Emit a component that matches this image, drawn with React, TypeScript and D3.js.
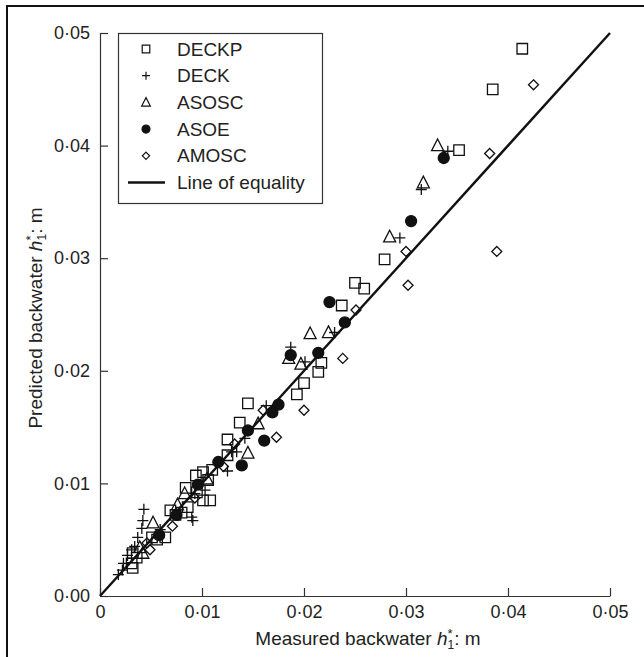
import * as d3 from "d3";
import React, { useEffect, useRef } from "react";

const deckp = [
  [0.0414, 0.0486], [0.0385, 0.045], [0.0352, 0.0396], [0.0279, 0.0299],
  [0.025, 0.0278], [0.0259, 0.0273], [0.0237, 0.0258], [0.0217, 0.0207],
  [0.0214, 0.0199], [0.02, 0.0189], [0.0193, 0.0179], [0.0145, 0.0171],
  [0.0137, 0.0154], [0.0125, 0.0139], [0.0125, 0.0125], [0.011, 0.0112],
  [0.0101, 0.011], [0.0094, 0.0107], [0.0106, 0.0103], [0.0084, 0.0096],
  [0.0095, 0.0092], [0.0101, 0.0085], [0.0108, 0.0085], [0.0069, 0.0076],
  [0.0074, 0.0072], [0.008, 0.0074], [0.0086, 0.0079], [0.0051, 0.0052],
  [0.0056, 0.005], [0.0064, 0.0052], [0.0032, 0.0038], [0.0036, 0.0034],
  [0.0031, 0.0029], [0.0032, 0.0025],
];
const deck = [
  [0.0341, 0.0395], [0.0315, 0.0361], [0.0294, 0.0318], [0.023, 0.0234],
  [0.0187, 0.0221], [0.0201, 0.0208], [0.0163, 0.0169], [0.0142, 0.014],
  [0.0129, 0.0128], [0.0134, 0.0128], [0.0125, 0.0111], [0.0093, 0.0091],
  [0.0103, 0.0094], [0.009, 0.007], [0.0091, 0.0067], [0.0043, 0.0077],
  [0.0042, 0.0067], [0.0041, 0.006], [0.0037, 0.0052], [0.0034, 0.0044],
  [0.0031, 0.0041], [0.0027, 0.0036], [0.0023, 0.0029], [0.0022, 0.0023],
  [0.0018, 0.0019], [0.0059, 0.0059],
];
const asosc = [
  [0.0331, 0.04], [0.0317, 0.0367], [0.0284, 0.0319], [0.0206, 0.0233],
  [0.0224, 0.0234], [0.0185, 0.0211], [0.0197, 0.0206], [0.0155, 0.0153],
  [0.0145, 0.0127], [0.0105, 0.0104], [0.0083, 0.0091], [0.0076, 0.0081],
  [0.0052, 0.0065], [0.0042, 0.0038], [0.0039, 0.0043],
];
const asoe = [
  [0.0337, 0.0389], [0.0305, 0.0333], [0.0225, 0.0261], [0.024, 0.0243],
  [0.0214, 0.0216], [0.0187, 0.0214], [0.0175, 0.017], [0.0169, 0.0163],
  [0.0145, 0.0147], [0.0161, 0.0138], [0.0139, 0.0116], [0.0116, 0.0119],
  [0.0096, 0.0099], [0.0075, 0.0072], [0.0058, 0.0054],
];
const amosc = [
  [0.0425, 0.0454], [0.0382, 0.0393], [0.03, 0.0306], [0.0389, 0.0306],
  [0.0302, 0.0276], [0.0251, 0.0254], [0.0238, 0.0211], [0.02, 0.0165],
  [0.0173, 0.0141], [0.016, 0.0165], [0.0132, 0.0135], [0.0121, 0.0115],
  [0.0093, 0.0087], [0.0071, 0.0062], [0.0046, 0.0047], [0.0049, 0.0041],
];

const ticks = [0, 0.01, 0.02, 0.03, 0.04, 0.05];
const xTickLabels = ["0", "0·01", "0·02", "0·03", "0·04", "0·05"];
const yTickLabels = ["0·00", "0·01", "0·02", "0·03", "0·04", "0·05"];
const seriesNames = ["DECKP", "DECK", "ASOSC", "ASOE", "AMOSC"];
const lineName = "Line of equality";

const W = 644;
const H = 657;
const FONT = "'Liberation Sans', Arial, Helvetica, sans-serif";

// Formas de los marcadores, centradas en (0,0), de tamaño s.
const shapes: Record<string, (s: number) => string> = {
  square: (s) => `M${-s / 2},${-s / 2}h${s}v${s}h${-s}Z`,
  plus: (s) => `M${-s / 2},0H${s / 2}M0,${-s / 2}V${s / 2}`,
  triangle: (s) => `M0,${-s * 0.55}L${s / 2},${s * 0.42}L${-s / 2},${s * 0.42}Z`,
  circle: (s) => `M${s / 2},0A${s / 2},${s / 2} 0 1,1 ${-s / 2},0A${s / 2},${s / 2} 0 1,1 ${s / 2},0Z`,
  diamond: (s) => `M0,${-s / 2}L${s / 2},0L0,${s / 2}L${-s / 2},0Z`,
};

export default function App() {
  const ref = useRef<SVGSVGElement>(null);

  useEffect(() => {
    const svg = d3.select(ref.current);
    svg.selectAll("*").remove();

    const margin = { top: 33, right: 34, bottom: 61, left: 100 };
    const x = d3.scaleLinear([0, 0.05], [margin.left, W - margin.right]);
    const y = d3.scaleLinear([0, 0.05], [H - margin.bottom, margin.top]);

    // Marco de la figura (solo arriba e izquierda).
    svg.append("path")
      .attr("d", `M7,${H}V6H${W}`)
      .attr("fill", "none")
      .attr("stroke", "#111")
      .attr("stroke-width", 2);

    const xAxis = d3.axisBottom(x).tickValues(ticks)
      .tickFormat((_, i) => xTickLabels[i]).tickSizeInner(-8).tickSizeOuter(0).tickPadding(9);
    const yAxis = d3.axisLeft(y).tickValues(ticks)
      .tickFormat((_, i) => yTickLabels[i]).tickSizeInner(-8).tickSizeOuter(0).tickPadding(10);

    svg.append("g")
      .attr("transform", `translate(0,${y(0)})`)
      .call(xAxis)
      .call((g) => g.selectAll("path, line").attr("stroke", "#333").attr("stroke-width", 1.2))
      .call((g) => g.selectAll("text").attr("font-size", 18).attr("font-family", FONT).attr("fill", "#222"));

    svg.append("g")
      .attr("transform", `translate(${x(0)},0)`)
      .call(yAxis)
      .call((g) => g.selectAll("path, line").attr("stroke", "#333").attr("stroke-width", 1.2))
      .call((g) => g.selectAll("text").attr("font-size", 18).attr("font-family", FONT).attr("fill", "#222"));

    // Títulos de los ejes con h*₁ (asterisco arriba, 1 debajo)
    const axisTitle = (t: d3.Selection<SVGTextElement, unknown, null, undefined>, lead: string) => {
      t.append("tspan").text(lead);
      t.append("tspan").attr("font-style", "italic").text("h");
      t.append("tspan").attr("font-size", 13).attr("dy", -7).text("*");
      t.append("tspan").attr("font-size", 12).attr("dx", -5).attr("dy", 11).text("1");
      t.append("tspan").attr("dy", -4).text(": m");
    };
    svg.append("text")
      .attr("x", 368).attr("y", 645)
      .attr("text-anchor", "middle")
      .attr("font-size", 19).attr("font-family", FONT).attr("fill", "#222")
      .call((t) => axisTitle(t, "Measured backwater "));
    svg.append("text")
      .attr("transform", `translate(42,318) rotate(-90)`)
      .attr("text-anchor", "middle")
      .attr("font-size", 19).attr("font-family", FONT).attr("fill", "#222")
      .call((t) => axisTitle(t, "Predicted backwater "));

    // Línea de igualdad
    svg.append("line")
      .attr("x1", x(0)).attr("y1", y(0))
      .attr("x2", x(0.05)).attr("y2", y(0.05))
      .attr("stroke", "#111").attr("stroke-width", 2.4);

    const series = [
      { data: deckp, shape: "square", size: 10.5 },
      { data: deck, shape: "plus", size: 11 },
      { data: asosc, shape: "triangle", size: 12 },
      { data: asoe, shape: "circle", size: 11 },
      { data: amosc, shape: "diamond", size: 10 },
    ];

    series.forEach((s) => {
      const filled = s.shape === "circle";
      svg.append("g")
        .selectAll("path")
        .data(s.data)
        .join("path")
        .attr("transform", (d) => `translate(${x(d[0])},${y(d[1])})`)
        .attr("d", shapes[s.shape](s.size))
        .attr("fill", filled ? "#111" : "none")
        .attr("stroke", "#111")
        .attr("stroke-width", 1.3);
    });

    // Leyenda
    const lg = svg.append("g");
    lg.append("rect")
      .attr("x", 118.5).attr("y", 33.5).attr("width", 204).attr("height", 170)
      .attr("fill", "white").attr("stroke", "#333").attr("stroke-width", 1.2);
    const rowY = (i: number) => 49 + i * 26.7;
    series.forEach((s, i) => {
      const filled = s.shape === "circle";
      lg.append("path")
        .attr("transform", `translate(146,${rowY(i)})`)
        .attr("d", shapes[s.shape](s.size * 0.72))
        .attr("fill", filled ? "#111" : "none")
        .attr("stroke", "#111")
        .attr("stroke-width", 1.2);
      lg.append("text")
        .attr("x", 177).attr("y", rowY(i) + 6.5)
        .attr("font-size", 19).attr("font-family", FONT).attr("fill", "#222")
        .text(seriesNames[i]);
    });
    lg.append("line")
      .attr("x1", 128).attr("x2", 165)
      .attr("y1", rowY(5)).attr("y2", rowY(5))
      .attr("stroke", "#111").attr("stroke-width", 2.4);
    lg.append("text")
      .attr("x", 177).attr("y", rowY(5) + 6.5)
      .attr("font-size", 19).attr("font-family", FONT).attr("fill", "#222")
      .text(lineName);
  }, []);

  return (
    <svg
      ref={ref}
      width={W}
      height={H}
      viewBox={`0 0 ${W} ${H}`}
      style={{ position: "absolute", left: 0, top: 0, background: "white" }}
    />
  );
}
